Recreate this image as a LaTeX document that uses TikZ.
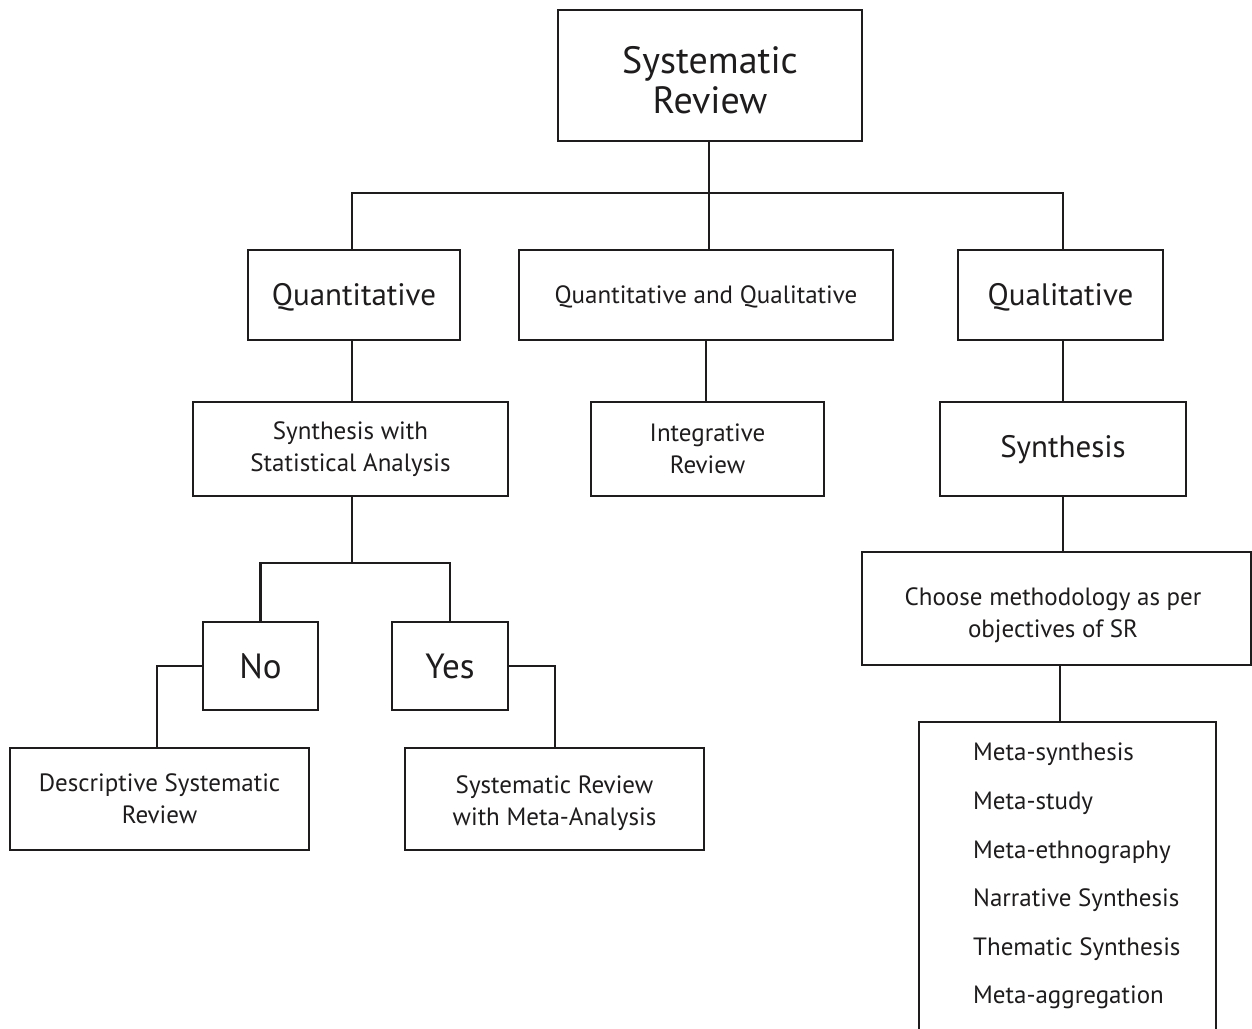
\documentclass[tikz,border=0pt]{standalone}
\usepackage{fontspec}
\setmainfont{PT Sans}
\definecolor{ink}{RGB}{30,28,29}
\begin{document}
\begin{tikzpicture}[x=1pt,y=-1pt,
  box/.style={draw=ink, line width=2.5pt, rectangle, inner sep=0pt, align=center, text=ink},
  con/.style={draw=ink, line width=2.5pt},
  big/.style={font=\fontsize{38}{40}\selectfont},
  mid/.style={font=\fontsize{31}{34}\selectfont},
  sml/.style={font=\fontsize{25}{32}\selectfont}]
\useasboundingbox (0,0) rectangle (1252,1028);
\clip (0,0) rectangle (1252,1028);
\fill[white] (0,0) rectangle (1252,1028);
% boxes
\node[box,big,minimum width=304pt,minimum height=131pt] (sr) at (710,75.5) {\rule{0pt}{36pt}Systematic\\Review};
\node[box,mid,text height=26pt,text depth=6pt,minimum width=212pt,minimum height=90pt] (quant) at (354,295) {Quantitative};
\node[box,sml,text height=20pt,text depth=4pt,minimum width=374pt,minimum height=90pt] (qq) at (706,295) {Quantitative and Qualitative};
\node[box,mid,text height=26pt,text depth=6pt,minimum width=205pt,minimum height=90pt] (qual) at (1060.5,295) {Qualitative};
\node[box,sml,minimum width=315pt,minimum height=94pt] (ssa) at (350.5,449) {Synthesis with\\Statistical Analysis};
\node[box,sml,minimum width=233pt,minimum height=94pt] (integ) at (707.5,449) {Integrative\\Review};
\node[box,mid,text height=24pt,text depth=8pt,minimum width=246pt,minimum height=94pt] (synth) at (1063,449) {Synthesis};
\node[box,font=\fontsize{35}{38}\selectfont,minimum width=115pt,minimum height=88pt] (no) at (260.5,666) {No};
\node[box,font=\fontsize{35}{38}\selectfont,minimum width=116pt,minimum height=88pt] (yes) at (450,666) {Yes};
\node[box,sml,minimum width=299pt,minimum height=102pt] (desc) at (159.5,799) {Descriptive Systematic\\Review};
\node[box,sml,minimum width=299pt,minimum height=102pt] (srma) at (554.5,799) {\rule{0pt}{26pt}Systematic Review\\with Meta-Analysis};
\node[box,sml,minimum width=389pt,minimum height=113pt] (choose) at (1056.5,608.5) {};
\node[sml,text=ink,align=center] (choosetext) at (1053,615) {Choose methodology as per\\objectives of SR};
\node[box,minimum width=297pt,minimum height=360pt] (list) at (1067.5,902) {};
\node[text=ink,anchor=north west,inner sep=0pt,align=left,font=\fontsize{25}{48.6}\selectfont] (listtext) at (973,743)
  {Meta-synthesis\\Meta-study\\Meta-ethnography\\Narrative Synthesis\\Thematic Synthesis\\Meta-aggregation};
% connectors
\coordinate (j1) at (709,193);
\coordinate (j2) at (352,563);
\coordinate (c3) at (157,0);
\coordinate (c4) at (555,0);
\coordinate (c5) at (1060,0);
\coordinate (c6) at (1063,0);
\draw[con] (sr.south -| j1) -- (j1);
\draw[con] (quant.north -| j2) |- (j1) -| (qual.north -| c6);
\draw[con] (j1) -- (qq.north -| j1);
\draw[con] (quant.south -| j2) -- (ssa.north -| j2);
\draw[con] (qq.south) -- (integ.north -| qq.south);
\draw[con] (qual.south -| c6) -- (synth.north -| c6);
\draw[con] (ssa.south -| j2) -- (j2);
\draw[con] (no.north) |- (j2) -| (yes.north);
\draw[con] (no.west) -| (desc.north -| c3);
\draw[con] (yes.east) -| (srma.north -| c4);
\draw[con] (synth.south -| c6) -- (choose.north -| c6);
\draw[con] (choose.south -| c5) -- (list.north -| c5);
\end{tikzpicture}
\end{document}
